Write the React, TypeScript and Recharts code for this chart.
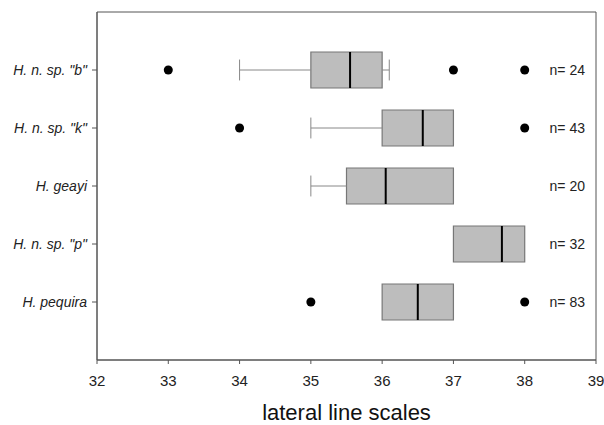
import React from 'react';
import {
  ComposedChart,
  Scatter,
  XAxis,
  YAxis,
  ReferenceArea,
  ReferenceLine,
} from 'recharts';

// one entry per species, top to bottom
const species = ['H. n. sp. "b"', 'H. n. sp. "k"', 'H. geayi', 'H. n. sp. "p"', 'H. pequira'];
const rows = [1, 2, 3, 4, 5];
const whiskerLow = [34, 35, 35, 37, 36];
const q1 = [35, 36, 35.5, 37, 36];
const median = [35.55, 36.57, 36.05, 37.68, 36.5];
const q3 = [36, 37, 37, 38, 37];
const whiskerHigh = [36.1, 37, 37, 38, 37];
const outliers = [[33, 37, 38], [34, 38], [], [], [35, 38]];
const counts = [24, 43, 20, 32, 83];
const xTicks = [32, 33, 34, 35, 36, 37, 38, 39];

const outlierPts = outliers.flatMap((vals, i) => vals.map((x) => ({ x, y: rows[i] })));
// sample sizes are written against the right edge of the frame
const countPts = counts.map((n, i) => ({ x: 39, y: rows[i], n }));

const BOX_H = 0.31;
const CAP_H = 0.18;
const FONT = '"Liberation Sans", Arial, sans-serif';
const AXIS = '#555';

const CountLabel = (p: any) => (
  <text
    x={p.cx - 11}
    y={p.cy}
    dy="0.35em"
    textAnchor="end"
    fill="#222"
    fontSize={14}
    fontFamily={FONT}
  >
    {`n= ${p.payload.n}`}
  </text>
);

export default function App() {
  return (
    <div style={{ position: 'absolute', left: 0, top: 0, background: '#fff' }}>
      <ComposedChart width={604} height={425} margin={{ top: 12, right: 8, bottom: 0, left: 0 }}>
        <XAxis
          type="number"
          dataKey="x"
          domain={[32, 39]}
          ticks={xTicks}
          allowDataOverflow
          stroke={AXIS}
          tickSize={4}
          tickMargin={11}
          height={65}
          tick={{ fill: '#222', fontSize: 15, fontFamily: FONT }}
          label={{ value: 'lateral line scales', position: 'insideBottom', offset: 5, fill: '#111', fontSize: 22, fontFamily: FONT }}
        />
        <YAxis
          type="number"
          dataKey="y"
          domain={[0, 6]}
          ticks={rows}
          reversed
          allowDataOverflow
          width={97}
          stroke={AXIS}
          tickSize={5}
          tickMargin={5}
          tickFormatter={(v) => species[Number(v) - 1] ?? ''}
          tick={{ fill: '#222', fontSize: 14, fontStyle: 'italic', fontFamily: FONT }}
        />

        <ReferenceArea x1={32} x2={39} y1={0} y2={6} fill="none" stroke={AXIS} strokeWidth={1} />

        {rows.map((r, i) => (
          <React.Fragment key={species[i]}>
            {whiskerLow[i] < q1[i] && (
              <ReferenceLine segment={[{ x: whiskerLow[i], y: r }, { x: q1[i], y: r }]} stroke="#888" />
            )}
            {whiskerLow[i] < q1[i] && (
              <ReferenceLine segment={[{ x: whiskerLow[i], y: r - CAP_H }, { x: whiskerLow[i], y: r + CAP_H }]} stroke="#888" />
            )}
            {whiskerHigh[i] > q3[i] && (
              <ReferenceLine segment={[{ x: q3[i], y: r }, { x: whiskerHigh[i], y: r }]} stroke="#888" />
            )}
            {whiskerHigh[i] > q3[i] && (
              <ReferenceLine segment={[{ x: whiskerHigh[i], y: r - CAP_H }, { x: whiskerHigh[i], y: r + CAP_H }]} stroke="#888" />
            )}
            <ReferenceArea
              x1={q1[i]}
              x2={q3[i]}
              y1={r - BOX_H}
              y2={r + BOX_H}
              fill="#bdbdbd"
              fillOpacity={1}
              stroke="#777"
              strokeWidth={1.2}
            />
            <ReferenceLine
              segment={[{ x: median[i], y: r - BOX_H }, { x: median[i], y: r + BOX_H }]}
              stroke="#000"
              strokeWidth={2}
            />
          </React.Fragment>
        ))}

        <Scatter data={outlierPts} fill="#000" isAnimationActive={false} shape={(p: any) => <circle cx={p.cx} cy={p.cy} r={4.5} fill="#000" />} />
        <Scatter data={countPts} isAnimationActive={false} shape={CountLabel} />
      </ComposedChart>
    </div>
  );
}
